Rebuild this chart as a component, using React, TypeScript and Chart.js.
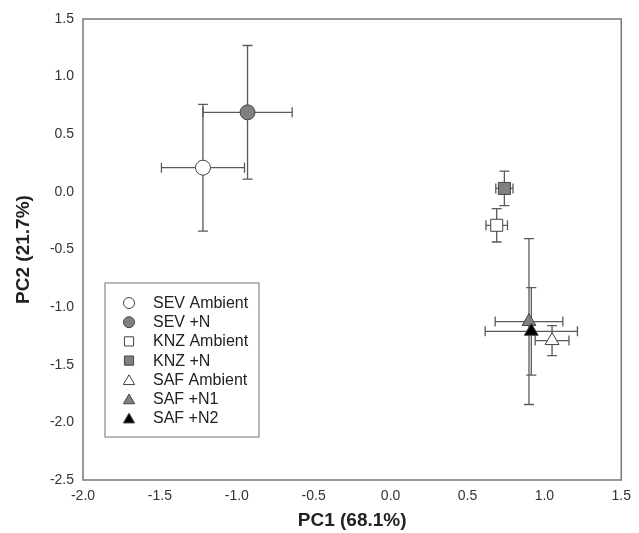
import React, { useEffect, useRef } from 'react';
import { Chart, registerables } from 'chart.js';

Chart.register(...registerables);

const seriesNames = ['SEV Ambient', 'SEV +N', 'KNZ Ambient', 'KNZ +N', 'SAF Ambient', 'SAF +N1', 'SAF +N2'];
const pc1 = [-1.22, -0.93, 0.69, 0.74, 1.05, 0.9, 0.915];
const pc2 = [0.21, 0.69, -0.29, 0.03, -1.29, -1.125, -1.21];
const pc1Err = [0.27, 0.29, 0.07, 0.056, 0.11, 0.22, 0.3];
const pc2Err = [0.55, 0.58, 0.145, 0.15, 0.13, 0.72, 0.38];
const markerShapes = ['circle', 'circle', 'rect', 'rect', 'triangle', 'triangle', 'triangle'];
const markerFills = ['#ffffff', '#808080', '#ffffff', '#808080', '#ffffff', '#808080', '#000000'];
const markerRadius = [7.5, 7.5, 8.5, 8.5, 8, 8, 8];
const legendRadius = [5.5, 5.5, 6.5, 6.5, 6.5, 6.5, 6.5];
const xRange = [-2.0, 1.5];
const yRange = [-2.5, 1.5];
const tickStep = 0.5;
const xTitle = 'PC1 (68.1%)';
const yTitle = 'PC2 (21.7%)';

const FONT = "'Liberation Sans', Arial, sans-serif";
const EDGE = '#444444';
const BAR = '#5a5a5a';

function drawShape(ctx: CanvasRenderingContext2D, shape: string, x: number, y: number, r: number) {
  ctx.beginPath();
  if (shape === 'circle') {
    ctx.arc(x, y, r, 0, Math.PI * 2);
  } else if (shape === 'rect') {
    const s = Math.SQRT1_2 * r;
    ctx.rect(x - s, y - s, 2 * s, 2 * s);
  } else {
    let a = 0;
    ctx.moveTo(x + Math.sin(a) * r, y - Math.cos(a) * r);
    a += (2 * Math.PI) / 3;
    ctx.lineTo(x + Math.sin(a) * r, y - Math.cos(a) * r);
    a += (2 * Math.PI) / 3;
    ctx.lineTo(x + Math.sin(a) * r, y - Math.cos(a) * r);
  }
  ctx.closePath();
  ctx.fill();
  ctx.stroke();
}

const errorBarPlugin = {
  id: 'errorBars',
  beforeDatasetsDraw(chart: any) {
    const ctx = chart.ctx;
    const xs = chart.scales.x;
    const ys = chart.scales.y;
    const cap = 5;
    ctx.save();
    ctx.strokeStyle = BAR;
    ctx.lineWidth = 1.3;
    for (let i = 0; i < pc1.length; i++) {
      const cx = xs.getPixelForValue(pc1[i]);
      const cy = ys.getPixelForValue(pc2[i]);
      const x0 = xs.getPixelForValue(pc1[i] - pc1Err[i]);
      const x1 = xs.getPixelForValue(pc1[i] + pc1Err[i]);
      const y0 = ys.getPixelForValue(pc2[i] - pc2Err[i]);
      const y1 = ys.getPixelForValue(pc2[i] + pc2Err[i]);
      ctx.beginPath();
      ctx.moveTo(x0, cy); ctx.lineTo(x1, cy);
      ctx.moveTo(x0, cy - cap); ctx.lineTo(x0, cy + cap);
      ctx.moveTo(x1, cy - cap); ctx.lineTo(x1, cy + cap);
      ctx.moveTo(cx, y0); ctx.lineTo(cx, y1);
      ctx.moveTo(cx - cap, y0); ctx.lineTo(cx + cap, y0);
      ctx.moveTo(cx - cap, y1); ctx.lineTo(cx + cap, y1);
      ctx.stroke();
    }
    ctx.restore();
  },
};

const frameLegendPlugin = {
  id: 'frameLegend',
  afterDraw(chart: any) {
    const ctx = chart.ctx;
    const a = chart.chartArea;
    ctx.save();
    ctx.strokeStyle = '#777777';
    ctx.lineWidth = 1.5;
    ctx.strokeRect(a.left, a.top, a.right - a.left, a.bottom - a.top);

    // legend box
    const lx = a.left + 22;
    const ly = a.top + 264;
    const lw = 154;
    const lh = 154;
    ctx.fillStyle = '#ffffff';
    ctx.fillRect(lx, ly, lw, lh);
    ctx.strokeStyle = '#888888';
    ctx.lineWidth = 1.2;
    ctx.strokeRect(lx, ly, lw, lh);
    const rowH = 19.2;
    ctx.font = `16px ${FONT}`;
    ctx.textBaseline = 'middle';
    ctx.textAlign = 'left';
    for (let i = 0; i < seriesNames.length; i++) {
      const y = ly + 20 + i * rowH;
      ctx.fillStyle = markerFills[i];
      ctx.strokeStyle = EDGE;
      ctx.lineWidth = 1;
      const dy = markerShapes[i] === 'triangle' ? 1.5 : 0;
      drawShape(ctx, markerShapes[i], lx + 24, y + dy, legendRadius[i]);
      ctx.fillStyle = '#222222';
      ctx.fillText(seriesNames[i], lx + 48, y + 0.5);
    }
    ctx.restore();
  },
};

export default function App() {
  const ref = useRef<HTMLCanvasElement | null>(null);
  useEffect(() => {
    if (!ref.current) return;
    const n = seriesNames.length;
    const chart = new Chart(ref.current, {
      type: 'scatter',
      data: {
        datasets: seriesNames.map((name, i) => ({
          label: name,
          data: [{ x: pc1[i], y: pc2[i] }],
          pointStyle: markerShapes[i] as any,
          pointRadius: markerRadius[i],
          pointHoverRadius: markerRadius[i],
          backgroundColor: markerFills[i],
          borderColor: EDGE,
          borderWidth: 1,
          order: n - i,
        })),
      },
      options: {
        animation: false,
        responsive: false,
        maintainAspectRatio: false,
        layout: { padding: { left: 0, right: 14, top: 19, bottom: 0 } },
        plugins: { legend: { display: false }, tooltip: { enabled: false } },
        scales: {
          x: {
            type: 'linear',
            min: xRange[0],
            max: xRange[1],
            grid: { display: false, drawTicks: false },
            border: { display: false },
            ticks: {
              stepSize: tickStep,
              autoSkip: false,
              maxRotation: 0,
              padding: 8,
              color: '#333333',
              font: { family: FONT, size: 14 },
              callback: (v: any) => Number(v).toFixed(1),
            },
            title: {
              display: true,
              text: xTitle,
              color: '#222222',
              font: { family: FONT, size: 19, weight: 'bold' },
              padding: { top: 0, bottom: 1 },
            },
            afterFit: (s: any) => { s.height = 53; },
          },
          y: {
            type: 'linear',
            min: yRange[0],
            max: yRange[1],
            grid: { display: false, drawTicks: false },
            border: { display: false },
            ticks: {
              stepSize: tickStep,
              autoSkip: false,
              padding: 9,
              color: '#333333',
              font: { family: FONT, size: 14 },
              callback: (v: any) => Number(v).toFixed(1),
            },
            title: {
              display: true,
              text: yTitle,
              color: '#222222',
              font: { family: FONT, size: 19, weight: 'bold' },
              padding: { top: 12, bottom: 0 },
            },
            afterFit: (s: any) => { s.width = 83; },
          },
        },
      },
      plugins: [errorBarPlugin, frameLegendPlugin],
    });
    return () => chart.destroy();
  }, []);
  return (
    <div style={{ position: 'fixed', left: 0, top: 0, width: 639, height: 533, background: '#fff' }}>
      <canvas ref={ref} width={639} height={533} style={{ display: 'block' }} />
    </div>
  );
}
